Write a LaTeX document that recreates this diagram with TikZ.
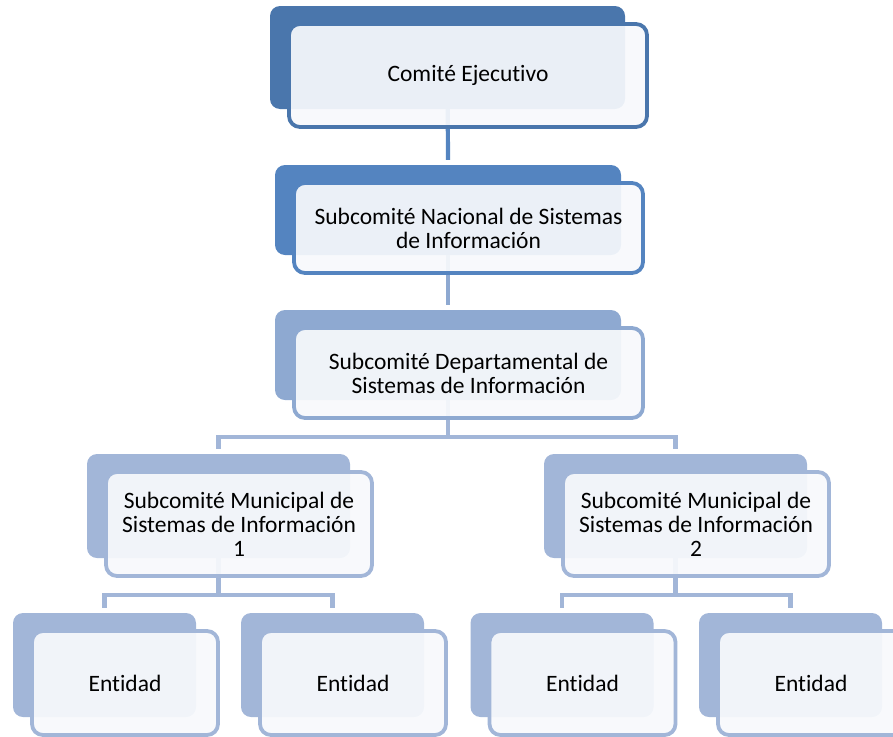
\documentclass[tikz,border=0pt]{standalone}
\usepackage{fontspec}
\setmainfont[Ligatures=NoCommon]{Carlito}
\usetikzlibrary{positioning,backgrounds}
\definecolor{levelone}{HTML}{4A76AC}
\definecolor{leveltwo}{HTML}{5484C0}
\definecolor{levelthree}{HTML}{8EA9D1}
\definecolor{levelfour}{HTML}{A2B6D8}
\definecolor{frontfill}{HTML}{F7F9FC}
\begin{document}
\begin{tikzpicture}
[x=1pt,y=-1pt,
 backdecorate/.style={shape=rectangle,rounded corners=10pt,inner sep=0pt},
 frontdecorate/.style={shape=rectangle,rounded corners=11pt,line width=3.8pt,
   fill=frontfill,fill opacity=0.93,text opacity=1,align=center,
   font=\fontsize{23.5pt}{24pt}\selectfont},
 linedecorate/.style={-,line width=4.2pt,shorten >=5pt}]
\useasboundingbox (0,0) rectangle (893,736);
%% boxes: back plate, then front card
\foreach \nodename/\x/\y/\w/\h/\colour/\nodelabel in {
  ejecutivo/447.5/57.5/355/103/levelone/{Comité Ejecutivo},
  nacional/448/210/346/90/leveltwo/{Subcomité Nacional de Sistemas\\de Información},
  departamental/448/355/346/90/levelthree/{Subcomité Departamental de\\Sistemas de Información},
  municipal1/218.5/506/263/104/levelfour/{Subcomité Municipal de\\Sistemas de Información\\1},
  municipal2/675.5/506/263/104/levelfour/{Subcomité Municipal de\\Sistemas de Información\\2},
  entidad1/104.5/665/183/104/levelfour/{Entidad},
  entidad2/332.5/665/183/104/levelfour/{Entidad},
  entidad3/562/665/183/104/levelfour/{Entidad},
  entidad4/790.5/665/183/104/levelfour/{Entidad}} {
  \node (\nodename-back) at (\x,\y) [backdecorate,fill=\colour,
    minimum width=\w pt,minimum height=\h pt] {};
  \node (\nodename) at ([shift={(20.5,18)}]\nodename-back.center)
    [frontdecorate,draw=\colour,minimum width=\w pt+3pt,minimum height=\h pt] {\nodelabel};
}
%% connectors
\begin{scope}[on background layer]
\path
\foreach \startnode/\endnode/\colour in {ejecutivo/nacional/leveltwo,
  nacional/departamental/levelthree} {
  (\startnode-back) edge[linedecorate,draw=\colour] (\endnode-back.north)
};
\coordinate (bar437) at (0,437);
\coordinate (bar595) at (0,595);
\foreach \parent/\leftchild/\rightchild/\ybar in {
  departamental/municipal1/municipal2/437, municipal1/entidad1/entidad2/595,
  municipal2/entidad3/entidad4/595} {
  \coordinate (\parent-fork) at (\parent-back |- bar\ybar);
  \draw[linedecorate,draw=levelfour] (\parent-back) -- (\parent-fork) -| (\leftchild-back.north);
  \draw[linedecorate,draw=levelfour] (\parent-fork) -| (\rightchild-back.north);
}
\end{scope}
\end{tikzpicture}
\end{document}
